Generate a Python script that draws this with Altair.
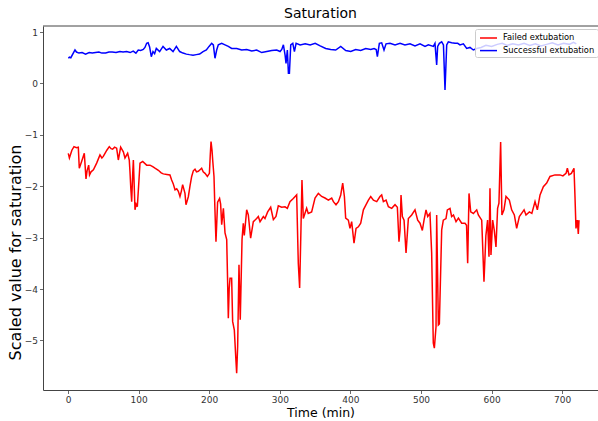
import altair as alt
import pandas as pd

# ---- data ----
red_t = [0.4, 2, 5.5, 8.5, 12, 14.6, 16, 19.3, 23.1, 25.5, 27, 29.3, 30.5, 32.6, 36, 40.6, 45.3, 48, 50, 52.4,
         55, 58.5, 61, 63.2, 66, 68.9, 71.3, 74.6, 78.4, 80.7, 84.5, 86.8, 87.8, 89, 90.2, 91.5, 92.6, 94.9, 96.5, 98.2,
         100, 102, 105.8, 111.4, 116.1, 120, 123.2, 128, 132, 135, 140, 144.4, 146.8, 149, 151.6, 154, 156.3, 158.6, 160.5, 162.4,
         165.7, 167.1, 168.5, 170.5, 173, 175.2, 177.5, 179.9, 182, 184.6, 187, 189.3, 191.5, 194.1, 197.4, 200.3, 201.5, 202.6, 204, 205,
         206.8, 208, 209.6, 211.9, 214.7, 216.2, 217.7, 220.1, 222.4, 224.8, 226, 227.1, 228.3, 229.5, 231.8, 233.2, 235.6, 237.5, 238.9, 240.3,
         242.2, 244, 246.5, 248.3, 249.7, 253.1, 255.4, 258.7, 262.5, 267.2, 269.6, 272, 276.7, 279, 282.8, 287.1, 290.9, 294.6, 297.9, 302.6,
         307.4, 310.7, 314.4, 319.1, 323.9, 326.2, 328.1, 330, 331.4, 333.3, 335.6, 338, 340.3, 345.1, 349.9, 354.6, 359.3, 364, 368.8, 373.5,
         375.9, 379.6, 383, 386.3, 389.1, 391.5, 393.3, 397.1, 399.4, 401.8, 405.1, 408, 411.3, 414.6, 418.4, 422.2, 425.5, 428.8, 432.6, 437.3,
         441.9, 444.3, 446.7, 450.5, 453.8, 458.5, 463.2, 466.5, 468.8, 470.3, 471.7, 473.6, 476, 478.8, 482.1, 486.8, 491.5, 495.3, 498.6, 501.9,
         504.3, 507.1, 509.5, 512.7, 515.1, 517.4, 518.9, 521.3, 522.2, 524.6, 526, 529.3, 531.6, 535.4, 537.3, 541.1, 543.4, 546, 549.6, 553,
         557.6, 562.3, 564.5, 566.1, 568, 570.4, 574.2, 578.9, 581.2, 586, 589.2, 591.9, 594.3, 596.3, 597.7, 599.1, 601.5, 603.8, 606.2, 608.5,
         610.4, 612.8, 614.6, 617.5, 620.4, 625.1, 628.4, 632.2, 635.5, 639.3, 644, 646, 648.7, 653.5, 657, 661.5, 664.8, 668.6, 673.3, 678,
         682.7, 689.8, 696.9, 701, 705.4, 707.3, 709.6, 713, 716.7, 718.1, 719.5, 721.4, 722.8, 723.8]
red_v = [-1.36, -1.45, -1.30, -1.23, -1.25, -1.24, -1.65, -1.52, -1.36, -1.86, -1.70, -1.59, -1.78, -1.72, -1.68, -1.55, -1.39, -1.45, -1.42, -1.36,
         -1.30, -1.23, -1.27, -1.28, -1.24, -1.26, -1.49, -1.24, -1.33, -1.45, -1.36, -1.49, -1.72, -2.05, -2.30, -1.80, -1.49, -2.46, -2.35, -2.40,
         -2.00, -1.55, -1.52, -1.59, -1.59, -1.62, -1.65, -1.69, -1.74, -1.76, -1.77, -1.78, -1.88, -1.95, -2.07, -2.05, -2.10, -2.20, -2.10, -1.97,
         -2.14, -2.36, -2.30, -2.20, -1.98, -1.81, -1.70, -1.67, -1.72, -1.71, -1.68, -1.65, -1.72, -1.75, -1.81, -1.75, -1.40, -1.13, -1.30, -1.50,
         -1.81, -2.40, -3.08, -2.31, -2.24, -2.35, -2.75, -2.43, -2.91, -3.04, -3.80, -4.57, -4.00, -3.79, -3.79, -4.63, -4.80, -5.30, -5.64, -5.12,
         -3.53, -4.60, -3.04, -2.72, -2.96, -2.46, -2.56, -3.01, -2.69, -2.63, -2.59, -2.69, -2.59, -2.63, -2.50, -2.41, -2.65, -2.59, -2.38, -2.41,
         -2.40, -2.43, -2.30, -2.24, -2.17, -3.50, -3.98, -2.82, -1.88, -2.63, -2.53, -2.43, -2.53, -2.50, -2.23, -2.14, -2.20, -2.23, -2.27, -2.23,
         -2.30, -2.36, -2.30, -2.17, -1.94, -2.20, -2.62, -2.66, -2.82, -2.69, -3.11, -2.82, -2.79, -2.72, -2.46, -2.36, -2.27, -2.20, -2.27, -2.30,
         -2.20, -2.17, -2.30, -2.27, -2.40, -2.43, -2.36, -2.41, -3.08, -2.86, -2.17, -2.59, -2.66, -3.30, -2.63, -2.56, -2.46, -2.66, -2.72, -2.86,
         -2.66, -2.46, -2.59, -2.53, -3.30, -5.05, -5.15, -4.73, -2.56, -4.70, -4.68, -2.85, -2.66, -2.63, -2.46, -2.43, -2.59, -2.56, -2.69, -2.62,
         -2.72, -2.72, -2.76, -3.50, -2.14, -2.50, -2.53, -2.46, -2.56, -2.66, -3.86, -2.96, -2.66, -3.37, -2.04, -3.34, -2.66, -2.86, -3.18, -2.43,
         -2.33, -1.14, -2.56, -2.46, -2.20, -2.27, -2.46, -2.56, -2.82, -2.59, -2.50, -2.46, -2.56, -2.50, -2.53, -2.30, -2.46, -2.17, -2.01, -1.94,
         -1.81, -1.78, -1.78, -1.80, -1.75, -1.65, -1.78, -1.75, -1.65, -2.20, -2.82, -2.66, -2.93, -2.66]

blue_t = [0.5, 2, 4, 7.5, 9.9, 12, 15.5, 20, 24.9, 30, 34.4, 39, 43.8, 48, 53.3, 58, 62.7, 68, 73.6, 78,
          83, 88, 92.4, 96.2, 99.5, 103, 106.6, 109, 111.4, 113.5, 115.6, 118, 120.4, 122.7, 125.1, 129.8, 134.6, 139.3, 144, 148.8,
          153.5, 158.2, 162.9, 167.7, 172, 177.1, 181.8, 186.5, 191.3, 196, 199.8, 203.5, 205.9, 208.2, 210.6, 212.9, 217.7, 222.4, 227.1, 231.8,
          239, 246, 253.1, 260.2, 267.3, 274.4, 281.5, 288.6, 295.6, 300.4, 302.8, 305.1, 307.5, 308.8, 310.7, 312.2, 313.6, 315.5, 318.4, 320.7,
          323.1, 328.8, 335.9, 343, 350.1, 357.2, 365, 372.1, 379.2, 386.3, 393.4, 400.5, 407.5, 414.6, 421.7, 428.8, 433.5, 436.5, 438.2, 441,
          444.3, 447.6, 450.5, 456.1, 463.2, 470.3, 477.3, 484.4, 491.5, 498.6, 505.7, 510.4, 517.5, 519.8, 522.2, 523.6, 526, 529.3, 531.8, 534,
          536.4, 538.7, 543.4, 548.2, 552, 555.2, 560, 564.7, 569.4, 574.1, 578.9, 585, 592, 600, 608, 615, 622, 630, 638, 646,
          654, 662, 670, 678, 686, 694, 702, 710, 716, 720]
blue_v = [0.49, 0.51, 0.50, 0.59, 0.65, 0.61, 0.59, 0.60, 0.57, 0.60, 0.59, 0.60, 0.61, 0.59, 0.59, 0.61, 0.61, 0.60, 0.62, 0.61,
          0.62, 0.60, 0.63, 0.59, 0.65, 0.64, 0.66, 0.70, 0.78, 0.79, 0.71, 0.52, 0.62, 0.58, 0.68, 0.62, 0.72, 0.65, 0.68, 0.62,
          0.72, 0.62, 0.59, 0.57, 0.56, 0.55, 0.56, 0.57, 0.62, 0.65, 0.72, 0.78, 0.75, 0.49, 0.65, 0.75, 0.78, 0.75, 0.72, 0.68,
          0.68, 0.65, 0.66, 0.63, 0.65, 0.60, 0.62, 0.64, 0.65, 0.62, 0.66, 0.75, 0.55, 0.39, 0.65, 0.20, 0.20, 0.75, 0.78, 0.62,
          0.78, 0.75, 0.77, 0.75, 0.78, 0.73, 0.68, 0.66, 0.65, 0.72, 0.64, 0.62, 0.66, 0.64, 0.68, 0.66, 0.68, 0.66, 0.52, 0.78,
          0.79, 0.65, 0.77, 0.78, 0.75, 0.78, 0.75, 0.77, 0.73, 0.77, 0.72, 0.75, 0.72, 0.78, 0.36, 0.72, 0.78, 0.81, 0.75, -0.13,
          0.75, 0.81, 0.79, 0.78, 0.78, 0.75, 0.77, 0.68, 0.70, 0.65, 0.68, 0.70, 0.74, 0.72, 0.76, 0.78, 0.74, 0.77, 0.75, 0.78,
          0.74, 0.77, 0.73, 0.76, 0.79, 0.75, 0.78, 0.76, 0.80, 0.77]

series_names = ["Failed extubation", "Successful extubation"]
series_colors = ["#ff0000", "#0000ff"]
x_ticks = [0, 100, 200, 300, 400, 500, 600, 700]
y_ticks = [-5, -4, -3, -2, -1, 0, 1]

df = pd.concat([
    pd.DataFrame({"t": red_t, "v": red_v, "series": series_names[0]}),
    pd.DataFrame({"t": blue_t, "v": blue_v, "series": series_names[1]}),
], ignore_index=True)

W, H = 555, 364
FONT = "DejaVu Sans"

lines = alt.Chart(df).mark_line(strokeWidth=1.5, clip=True).encode(
    x=alt.X("t:Q", title="Time (min)",
            scale=alt.Scale(domain=[-35.4, 750.7], nice=False, zero=False),
            axis=alt.Axis(values=x_ticks, grid=False, format="d")),
    y=alt.Y("v:Q", title="Scaled value for saturation",
            scale=alt.Scale(domain=[-5.965, 1.117], nice=False, zero=False),
            axis=alt.Axis(values=y_ticks, grid=False, format="d",
                          titleFontSize=16, titleX=-28, titleY=226,
                          titleAngle=270, titleAlign="center", titleBaseline="middle")),
    color=alt.Color("series:N",
                    scale=alt.Scale(domain=series_names, range=series_colors),
                    legend=alt.Legend(title=None, orient="none", legendX=432, legendY=3)),
    order=alt.Order("t:Q"),
)

top_rule = alt.Chart(pd.DataFrame({"a": [0]})).mark_rule(color="#444444", strokeWidth=1).encode(
    x=alt.value(0), x2=alt.value(W), y=alt.value(0)
)

chart = alt.layer(lines, top_rule).properties(
    width=W, height=H,
    title=alt.TitleParams("Saturation", font=FONT, fontSize=14, fontWeight="normal",
                          color="#000000", anchor="middle", offset=5),
    padding={"left": 43, "top": 26, "right": 0, "bottom": 31},
    autosize=alt.AutoSizeParams(type="none"),
).configure_view(stroke=None).configure_axis(
    domainColor="#444444", domainWidth=1,
    tickColor="#444444", tickSize=3.5, tickWidth=0.8,
    labelFont=FONT, labelFontSize=9, labelColor="#333333", labelPadding=2,
    titleFont=FONT, titleFontSize=12.5, titleFontWeight="normal", titleColor="#000000",
).configure_axisX(titlePadding=2).configure_legend(
    fillColor="rgba(255,255,255,0.8)", strokeColor="#cccccc", cornerRadius=2,
    padding=3, labelFont=FONT, labelFontSize=8.3, labelColor="#000000",
    symbolType="M-0.8,0H2.6", symbolStrokeWidth=1.5, symbolSize=100,
    rowPadding=2.6, labelOffset=13,
)

chart.save("out.html", embed_options={"renderer": "svg", "actions": False})
